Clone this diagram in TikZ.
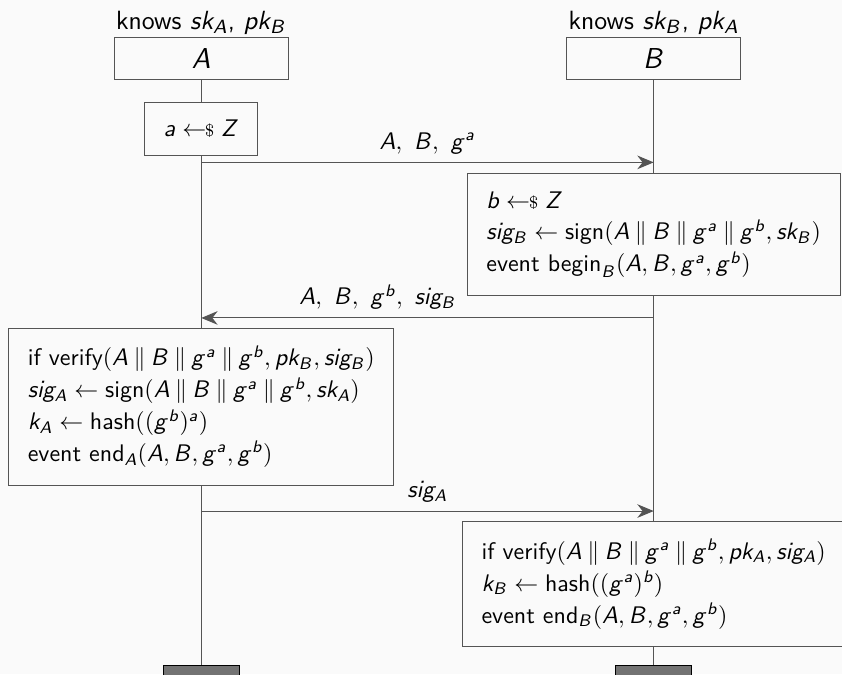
\documentclass[tikz,border=0pt]{standalone}
\usepackage{amsmath}
\usepackage{amssymb}
\usetikzlibrary{arrows.meta}
\renewcommand{\familydefault}{\sfdefault}
% sans italic letters in math, as on slides
\makeatletter
\DeclareSymbolFont{sfitalic}{OT1}{cmss}{m}{sl}
\count@=`A
\loop
  \mathcode\count@=\numexpr\symsfitalic*256+\count@\relax
  \ifnum\count@<`Z \advance\count@ by 1 \repeat
\count@=`a
\loop
  \mathcode\count@=\numexpr\symsfitalic*256+\count@\relax
  \ifnum\count@<`z \advance\count@ by 1 \repeat
\makeatother
\newcommand{\samplefrom}{\mathrel{\leftarrow\mkern-6mu{\scriptstyle\$}}}
\newcommand{\cat}{\mathbin{\|}}
\definecolor{paper}{gray}{0.98}
\definecolor{rule}{gray}{0.33}
\tikzset{
  party/.style={draw=rule, fill=paper, minimum width=2.55cm,
                minimum height=0.615cm, inner sep=0pt, font=\large},
  action/.style={draw=rule, fill=paper, align=left, inner xsep=8pt,
                 inner ysep=7.3pt, font=\fontsize{10}{13.3}\selectfont},
  lifeline/.style={draw=rule},
  msg/.style={draw=rule, -{Stealth[length=2.4mm, width=2mm]}},
  finish/.style={draw=black, fill=black!55, minimum width=1.11cm,
                 minimum height=0.3cm, inner sep=0pt}
}

\begin{document}
\begin{tikzpicture}[
    msglabel/.style={above},
    knows/.style={above, inner sep=1pt, font=\fontsize{11}{13}\selectfont}
]
  \fill[paper] (0,0) rectangle (12.34,9.88);
  \useasboundingbox (0,0) rectangle (12.34,9.88);
  % the two parties
  \node[party] (headA) at (2.95,9.02) {$A$};
  \node[party] (headB) at (9.58,9.02) {$B$};
  \node[knows] (knowsA) at (headA.north) {knows $sk_A$, $pk_B$};
  \node[knows] (knowsB) at (headB.north) {knows $sk_B$, $pk_A$};
  % local steps
  \node[action] (sampA) at (2.95,7.99) {$a \samplefrom Z$};
  \node[action] (compB) at (9.58,6.44)
    {$b \samplefrom Z$\\
     $sig_B \gets \text{sign}(A \cat B \cat g^a \cat g^b, sk_B)$\\
     event $\text{begin}_B(A, B, g^a, g^b)$};
  \node[action] (compA) at (2.95,3.92)
    {if $\text{verify}(A \cat B \cat g^a \cat g^b, pk_B, sig_B)$\\
     $sig_A \gets \text{sign}(A \cat B \cat g^a \cat g^b, sk_A)$\\
     $k_A \gets \text{hash}((g^b)^a)$\\
     event $\text{end}_A(A, B, g^a, g^b)$};
  \node[action] (doneB) at (9.58,1.32)
    {if $\text{verify}(A \cat B \cat g^a \cat g^b, pk_A, sig_A)$\\
     $k_B \gets \text{hash}((g^a)^b)$\\
     event $\text{end}_B(A, B, g^a, g^b)$};
  \node[finish] (endA) at (2.95,-0.03) {};
  \node[finish] (endB) at (9.58,-0.03) {};
  % lifelines
  \draw[lifeline] (headA) -- (sampA);
  \draw[lifeline] (sampA) -- (compA);
  \draw[lifeline] (compA) -- (endA);
  \draw[lifeline] (headB) -- (compB);
  \draw[lifeline] (compB) -- (doneB);
  \draw[lifeline] (doneB) -- (endB);
  % messages
  \coordinate (m1A) at (2.95,7.50);
  \coordinate (m1B) at (9.58,7.50);
  \coordinate (m2A) at (2.95,5.22);
  \coordinate (m2B) at (9.58,5.22);
  \coordinate (m3A) at (2.95,2.39);
  \coordinate (m3B) at (9.58,2.39);
  \draw[msg] (m1A) -- node[msglabel] {$A,~B,~g^a$} (m1B);
  \draw[msg] (m2B) -- node[msglabel, pos=0.61] {$A,~B,~g^b,~sig_B$} (m2A);
  \draw[msg] (m3A) -- node[msglabel] {$sig_A$} (m3B);
\end{tikzpicture}
\end{document}
